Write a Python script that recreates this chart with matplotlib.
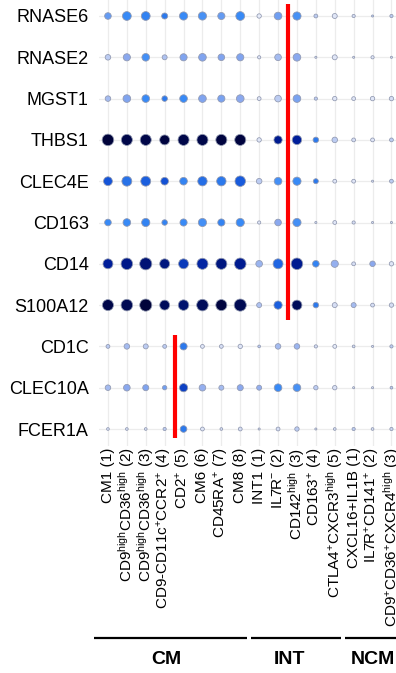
import numpy as np
import matplotlib
matplotlib.use("Agg")
import matplotlib.pyplot as plt
from matplotlib.colors import LinearSegmentedColormap
from matplotlib.transforms import blended_transform_factory

plt.rcParams["font.family"] = ["Liberation Sans", "DejaVu Sans"]
plt.rcParams["mathtext.default"] = "regular"

genes = ["RNASE6", "RNASE2", "MGST1", "THBS1", "CLEC4E", "CD163",
         "CD14", "S100A12", "CD1C", "CLEC10A", "FCER1A"]

clusters = [
    "CM1 (1)",
    "CD9$^{high}$CD36$^{high}$ (2)",
    "CD9$^{high}$CD36$^{high}$ (3)",
    "CD9-CD11c$^{+}$CCR2$^{+}$ (4)",
    "CD2$^{+}$ (5)",
    "CM6 (6)",
    "CD45RA$^{+}$ (7)",
    "CM8 (8)",
    "INT1 (1)",
    "IL7R$^{-}$ (2)",
    "CD142$^{high}$ (3)",
    "CD163$^{+}$ (4)",
    "CTLA4$^{+}$CXCR3$^{high}$ (5)",
    "CXCL16+IL1B (1)",
    "IL7R$^{+}$CD141$^{+}$ (2)",
    "CD9$^{+}$CD36$^{+}$CXCR4$^{high}$ (3)",
]

groups = ["CM", "INT", "NCM"]
group_sizes = [8, 5, 3]

# percent of cells expressing each gene (rows = genes, cols = clusters)
pct_expressed = np.array([
    [30, 53, 53, 25, 46, 46, 35, 53, 13, 40, 46, 10, 17, 7, 3, 7],      # RNASE6
    [21, 35, 40, 17, 35, 40, 30, 35, 7, 30, 40, 3, 17, 3, 7, 3],        # RNASE2
    [21, 40, 40, 21, 40, 40, 35, 40, 10, 30, 40, 7, 13, 10, 13, 13],    # MGST1
    [91, 83, 83, 67, 83, 83, 83, 83, 13, 46, 60, 21, 21, 10, 10, 10],   # THBS1
    [53, 67, 67, 40, 40, 60, 60, 75, 21, 40, 46, 17, 10, 10, 3, 10],    # CLEC4E
    [30, 40, 46, 21, 35, 46, 35, 46, 7, 30, 46, 3, 10, 7, 3, 3],        # CD163
    [67, 91, 100, 67, 67, 83, 83, 91, 30, 67, 91, 30, 35, 10, 21, 13],  # CD14
    [83, 91, 100, 67, 75, 91, 83, 100, 17, 46, 67, 21, 17, 17, 10, 13], # S100A12
    [10, 21, 17, 10, 35, 10, 10, 13, 5, 21, 21, 7, 10, 5, 3, 7],        # CD1C
    [21, 30, 25, 13, 46, 30, 17, 25, 17, 40, 40, 13, 13, 3, 3, 5],      # CLEC10A
    [5, 5, 5, 7, 30, 10, 5, 10, 3, 10, 13, 3, 5, 7, 5, 7],              # FCER1A
])

# scaled average expression (0 = low, 1 = high)
avg_expression = np.array([
    [0.42, 0.50, 0.52, 0.55, 0.50, 0.47, 0.42, 0.50, 0.12, 0.40, 0.47, 0.25, 0.15, 0.20, 0.25, 0.25],
    [0.25, 0.35, 0.48, 0.28, 0.37, 0.37, 0.37, 0.37, 0.15, 0.30, 0.35, 0.20, 0.15, 0.20, 0.15, 0.20],
    [0.30, 0.37, 0.50, 0.55, 0.50, 0.37, 0.38, 0.35, 0.15, 0.25, 0.38, 0.25, 0.15, 0.15, 0.15, 0.20],
    [0.98, 0.95, 0.95, 0.97, 0.95, 0.95, 0.97, 0.97, 0.15, 0.82, 0.80, 0.55, 0.25, 0.20, 0.15, 0.25],
    [0.65, 0.57, 0.62, 0.66, 0.52, 0.58, 0.55, 0.63, 0.25, 0.48, 0.50, 0.55, 0.15, 0.15, 0.20, 0.25],
    [0.50, 0.50, 0.52, 0.52, 0.50, 0.48, 0.52, 0.50, 0.15, 0.35, 0.48, 0.20, 0.15, 0.20, 0.20, 0.20],
    [0.80, 0.83, 0.87, 0.85, 0.72, 0.78, 0.85, 0.82, 0.32, 0.60, 0.82, 0.52, 0.33, 0.20, 0.35, 0.15],
    [0.95, 0.93, 0.98, 0.92, 0.88, 0.92, 0.97, 0.93, 0.28, 0.62, 0.92, 0.55, 0.20, 0.30, 0.20, 0.20],
    [0.25, 0.30, 0.25, 0.25, 0.55, 0.15, 0.20, 0.15, 0.25, 0.30, 0.32, 0.20, 0.12, 0.20, 0.20, 0.25],
    [0.30, 0.35, 0.37, 0.40, 0.70, 0.33, 0.30, 0.35, 0.33, 0.50, 0.47, 0.25, 0.18, 0.20, 0.20, 0.25],
    [0.20, 0.20, 0.20, 0.25, 0.55, 0.15, 0.20, 0.20, 0.20, 0.20, 0.25, 0.20, 0.20, 0.25, 0.20, 0.22],
])

cmap = LinearSegmentedColormap.from_list(
    "expr",
    [(0.0, "#ffffff"), (0.2, "#d6def4"), (0.35, "#8aa8ee"), (0.5, "#388bf6"),
     (0.65, "#1454d8"), (0.8, "#001e9a"), (1.0, "#000030")],
)

fig = plt.figure(figsize=(3.96, 6.73), dpi=100)
W, H = 396, 673
col_w = 18.9
row_h = 41.3
left_px, top_px = 98.5, 16 - row_h / 2
bottom_px = 446
n_rows, n_cols = len(genes), len(clusters)
ax = fig.add_axes([left_px / W, 1 - bottom_px / H,
                   n_cols * col_w / W, (bottom_px - top_px) / H])

xx, yy = np.meshgrid(np.arange(n_cols), np.arange(n_rows))
ax.scatter(xx.ravel(), yy.ravel(), s=pct_expressed.ravel() / 100 * 76,
           c=avg_expression.ravel(), cmap=cmap, vmin=0, vmax=1,
           edgecolors="#9098b0", linewidths=0.55, zorder=3)

ax.set_xlim(-0.5, n_cols - 0.5)
ax.set_ylim(10 + (bottom_px - 429) / row_h, -0.5)

ax.set_xticks(range(n_cols))
ax.set_xticklabels(clusters, rotation=90, fontsize=11, va="top", ha="center")
ax.set_yticks(range(n_rows))
ax.set_yticklabels(genes, fontsize=13)
ax.tick_params(length=0, axis="y", pad=7)
ax.tick_params(length=0, axis="x", pad=1)
ax.grid(True, color="#ececec", linewidth=0.9, zorder=0)
ax.set_axisbelow(True)
for sp in ax.spines.values():
    sp.set_visible(False)

# red separators
ax.plot([9.55, 9.55], [-0.29, 7.36], color="#ff0000", lw=3, zorder=4,
        solid_capstyle="butt", clip_on=False)
ax.plot([3.55, 3.55], [7.72, 10.22], color="#ff0000", lw=3, zorder=4,
        solid_capstyle="butt", clip_on=False)

# group brackets under the cluster labels
trans = blended_transform_factory(ax.transData, fig.transFigure)
line_y = 1 - 637.7 / H
text_y = 1 - 660 / H
start = 0
for i, (g, n) in enumerate(zip(groups, group_sizes)):
    x0 = start - 0.5 + (0.05 if i else -0.24)
    x1 = start + n - 0.5 - 0.15
    if i == len(groups) - 1:
        x1 = start + n
    ax.plot([x0, x1], [line_y, line_y], color="black", lw=1.6,
            transform=trans, clip_on=False, solid_capstyle="butt")
    xc = start + (n - 1) / 2 - 0.4 if i < len(groups) - 1 else start + n / 2 - 0.5
    ax.text(xc, text_y, g, transform=trans, ha="center", va="center",
            fontsize=14, fontweight="bold")
    start += n

fig.savefig("out.png", dpi=100)
